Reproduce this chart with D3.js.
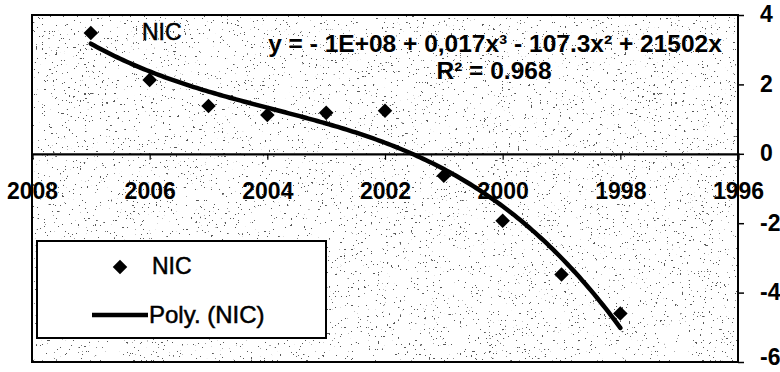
<!DOCTYPE html>
<html>
<head>
<meta charset="utf-8">
<script src="https://cdn.jsdelivr.net/npm/d3@7"></script>
<style>
  html, body { margin: 0; padding: 0; background: #fff; }
  svg { display: block; font-family: Arial, 'Liberation Sans', sans-serif; }
</style>
</head>
<body>
<div id="chart"></div>
<script>
// NIC values (x axis runs backwards in time)
const years = [2007, 2006, 2005, 2004, 2003, 2002, 2001, 2000, 1999, 1998];
const nic = [3.48, 2.13, 1.38, 1.12, 1.18, 1.24, -0.63, -1.93, -3.48, -4.6];
const xTicks = [2008, 2006, 2004, 2002, 2000, 1998, 1996];
const yTicks = [-6, -4, -2, 0, 2, 4];
const seriesName = 'NIC';
const trendName = 'Poly. (NIC)';
const equation = 'y = - 1E+08 + 0,017x³ - 107.3x² + 21502x';
const rSquared = 'R² = 0.968';

const width = 780;
const height = 372;
const plot = { left: 32, right: 738, top: 15, bottom: 362 };
const fontFamily = 'Arial, Liberation Sans, sans-serif';

const svg = d3.select('#chart').append('svg')
    .attr('width', width)
    .attr('height', height);

const x = d3.scaleLinear().domain([2008, 1996]).range([plot.left, plot.right]);
const y = d3.scaleLinear().domain([-6, 4]).range([plot.bottom, plot.top]);

// speckled scan texture for the plot area
const defs = svg.append('defs');
const speckle = defs.append('filter')
    .attr('id', 'speckle')
    .attr('x', 0).attr('y', 0).attr('width', 1).attr('height', 1);
speckle.append('feTurbulence')
    .attr('type', 'fractalNoise')
    .attr('baseFrequency', 0.45)
    .attr('numOctaves', 2)
    .attr('seed', 11);
speckle.append('feColorMatrix')
    .attr('type', 'matrix')
    .attr('values', '0 0 0 0 0  0 0 0 0 0  0 0 0 0 0  -45 0 0 0 12.5');

svg.append('rect')
    .attr('x', plot.left)
    .attr('y', plot.top)
    .attr('width', plot.right - plot.left)
    .attr('height', plot.bottom - plot.top)
    .attr('fill', '#fff');
svg.append('rect')
    .attr('x', plot.left)
    .attr('y', plot.top)
    .attr('width', plot.right - plot.left)
    .attr('height', plot.bottom - plot.top)
    .attr('filter', 'url(#speckle)')
    .attr('opacity', 0.65);

// cubic least-squares trend, same as the spreadsheet trendline
function polyFit(xs, ys, degree) {
    const x0 = d3.mean(xs);
    const n = degree + 1;
    const a = d3.range(n).map(() => new Array(n + 1).fill(0));
    xs.forEach((xv, k) => {
        const t = xv - x0;
        for (let i = 0; i < n; i++) {
            for (let j = 0; j < n; j++) a[i][j] += Math.pow(t, i + j);
            a[i][n] += ys[k] * Math.pow(t, i);
        }
    });
    for (let c = 0; c < n; c++) {
        let p = c;
        for (let r = c + 1; r < n; r++) if (Math.abs(a[r][c]) > Math.abs(a[p][c])) p = r;
        [a[c], a[p]] = [a[p], a[c]];
        for (let r = 0; r < n; r++) {
            if (r === c) continue;
            const f = a[r][c] / a[c][c];
            for (let k = c; k <= n; k++) a[r][k] -= f * a[c][k];
        }
    }
    const coef = a.map((row, i) => row[n] / row[i]);
    return xv => coef.reduce((s, c, i) => s + c * Math.pow(xv - x0, i), 0);
}
const trend = polyFit(years, nic, 3);
const trendX = d3.range(d3.max(years), d3.min(years) - 0.001, -0.05);

// x axis crosses at zero
const xAxis = svg.append('g')
    .attr('transform', `translate(0,${y(0)})`)
    .call(d3.axisBottom(x).tickValues(xTicks).tickSize(6).tickFormat(d3.format('d')));
xAxis.select('.domain').attr('stroke', '#000').attr('stroke-width', 2.2);
xAxis.selectAll('.tick line').attr('stroke', '#000').attr('stroke-width', 1.2);
xAxis.selectAll('.tick text')
    .attr('y', 45)
    .attr('dy', 0)
    .attr('fill', '#000')
    .attr('font-size', 23)
    .attr('font-weight', 'bold')
    .attr('font-family', fontFamily);

// y axis on the right
const yAxis = svg.append('g')
    .attr('transform', `translate(${plot.right},0)`)
    .call(d3.axisRight(y).tickValues(yTicks).tickSize(6).tickFormat(d => String(d)));
yAxis.select('.domain').remove();
yAxis.selectAll('.tick line').attr('stroke', '#000').attr('stroke-width', 1.5);
yAxis.selectAll('.tick text')
    .attr('x', 22)
    .attr('dy', d => d === -6 ? '0.12em' : '0.3em')
    .attr('fill', '#000')
    .attr('font-size', 23)
    .attr('font-weight', 'bold')
    .attr('font-family', fontFamily);

// plot area frame
svg.append('rect')
    .attr('x', plot.left)
    .attr('y', plot.top)
    .attr('width', plot.right - plot.left)
    .attr('height', plot.bottom - plot.top)
    .attr('fill', 'none')
    .attr('stroke', '#000')
    .attr('stroke-width', 2);

// trend line
svg.append('path')
    .datum(trendX)
    .attr('fill', 'none')
    .attr('stroke', '#000')
    .attr('stroke-width', 4.5)
    .attr('stroke-linecap', 'round')
    .attr('d', d3.line().x(d => x(d)).y(d => y(trend(d))));

// diamond markers
const diamond = d3.symbol().type(d3.symbolDiamond2).size(135);
svg.append('g').selectAll('path')
    .data(years)
    .join('path')
    .attr('transform', (d, i) => `translate(${x(d)},${y(nic[i])})`)
    .attr('d', diamond)
    .attr('fill', '#000');

// labels
svg.append('text')
    .attr('x', 142)
    .attr('y', 40)
    .attr('font-size', 23)
    .attr('fill', '#000')
    .attr('stroke', '#000')
    .attr('stroke-width', 0.5)
    .text(seriesName);
svg.append('text')
    .attr('x', 495)
    .attr('y', 52)
    .attr('text-anchor', 'middle')
    .attr('font-size', 24.5)
    .attr('font-weight', 'bold')
    .attr('fill', '#000')
    .text(equation);
svg.append('text')
    .attr('x', 494)
    .attr('y', 79)
    .attr('text-anchor', 'middle')
    .attr('font-size', 24.5)
    .attr('font-weight', 'bold')
    .attr('fill', '#000')
    .text(rSquared);

// legend
const legend = svg.append('g').attr('transform', 'translate(37,241)');
legend.append('rect')
    .attr('width', 289)
    .attr('height', 97)
    .attr('fill', '#fff')
    .attr('stroke', '#000')
    .attr('stroke-width', 2);
legend.append('path')
    .attr('transform', 'translate(83,26)')
    .attr('d', diamond)
    .attr('fill', '#000');
legend.append('text')
    .attr('x', 115)
    .attr('y', 33)
    .attr('font-size', 23)
    .attr('fill', '#000')
    .attr('stroke', '#000')
    .attr('stroke-width', 0.5)
    .text(seriesName);
legend.append('line')
    .attr('x1', 55).attr('x2', 111)
    .attr('y1', 74).attr('y2', 74)
    .attr('stroke', '#000')
    .attr('stroke-width', 4.5);
legend.append('text')
    .attr('x', 112)
    .attr('y', 82)
    .attr('font-size', 24)
    .attr('fill', '#000')
    .attr('stroke', '#000')
    .attr('stroke-width', 0.5)
    .text(trendName);
</script>
</body>
</html>
